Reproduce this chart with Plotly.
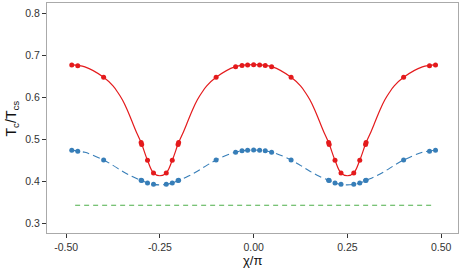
import plotly.graph_objects as go

# measured points
pts_x = [-0.485, -0.469, -0.4, -0.3, -0.2985, -0.283, -0.267, -0.233, -0.217, -0.2015, -0.2,
         -0.1, -0.048, -0.031, -0.016, 0.0, 0.016, 0.031, 0.048, 0.1,
         0.2, 0.2015, 0.217, 0.233, 0.267, 0.283, 0.2985, 0.3, 0.4, 0.469, 0.485]
red_pts = [0.678, 0.6762, 0.6486, 0.4933, 0.4886, 0.451, 0.4207, 0.4207, 0.451, 0.4886, 0.4933,
           0.6486, 0.6735, 0.6765, 0.678, 0.6786, 0.678, 0.6765, 0.6735, 0.6486,
           0.4933, 0.4886, 0.451, 0.4207, 0.4207, 0.451, 0.4886, 0.4933, 0.6486, 0.6762, 0.678]
blue_pts = [0.4748, 0.4724, 0.4517, 0.4035, 0.403, 0.3969, 0.3938, 0.3938, 0.3969, 0.403, 0.4035,
            0.4517, 0.470, 0.4735, 0.4748, 0.4755, 0.4748, 0.4735, 0.470, 0.4517,
            0.4035, 0.403, 0.3969, 0.3938, 0.3938, 0.3969, 0.403, 0.4035, 0.4517, 0.4724, 0.4748]

# fitted curves
red_curve_x = [-0.485, -0.45, -0.4, -0.375, -0.3625, -0.35, -0.3375, -0.325, -0.3125, -0.3,
               -0.283, -0.267, -0.25, -0.233, -0.217,
               -0.2, -0.1875, -0.175, -0.1625, -0.15, -0.1375, -0.125, -0.1, -0.05,
               0.0,
               0.05, 0.1, 0.125, 0.1375, 0.15, 0.1625, 0.175, 0.1875, 0.2,
               0.217, 0.233, 0.25, 0.267, 0.283,
               0.3, 0.3125, 0.325, 0.3375, 0.35, 0.3625, 0.375, 0.4, 0.45, 0.485]
red_curve = [0.678, 0.6733, 0.6486, 0.628, 0.613, 0.595, 0.572, 0.545, 0.518, 0.4933,
             0.451, 0.4207, 0.4143, 0.4207, 0.451,
             0.4933, 0.518, 0.545, 0.572, 0.595, 0.613, 0.628, 0.6486, 0.6733,
             0.6786,
             0.6733, 0.6486, 0.628, 0.613, 0.595, 0.572, 0.545, 0.518, 0.4933,
             0.451, 0.4207, 0.4143, 0.4207, 0.451,
             0.4933, 0.518, 0.545, 0.572, 0.595, 0.613, 0.628, 0.6486, 0.6733, 0.678]

blue_curve_x = [-0.485, -0.45, -0.4, -0.375, -0.35, -0.325, -0.3, -0.283, -0.267, -0.25, -0.233, -0.217,
                -0.2, -0.175, -0.15, -0.125, -0.1, -0.05, 0.0, 0.05, 0.1, 0.125, 0.15, 0.175, 0.2,
                0.217, 0.233, 0.25, 0.267, 0.283, 0.3, 0.325, 0.35, 0.375, 0.4, 0.45, 0.485]
blue_curve = [0.4748, 0.470, 0.4517, 0.439, 0.425, 0.413, 0.4033, 0.3969, 0.3938, 0.3925, 0.3938, 0.3969,
              0.4033, 0.413, 0.425, 0.439, 0.4517, 0.470, 0.4755, 0.470, 0.4517, 0.439, 0.425, 0.413, 0.4033,
              0.3969, 0.3938, 0.3925, 0.3938, 0.3969, 0.4033, 0.413, 0.425, 0.439, 0.4517, 0.470, 0.4748]
green_x = [-0.476, 0.476]
green_y = [0.344, 0.344]

x_ticks = [-0.5, -0.25, 0.0, 0.25, 0.5]
x_ticklabels = ["-0.50", "-0.25", "0.00", "0.25", "0.50"]
y_ticks = [0.3, 0.4, 0.5, 0.6, 0.7, 0.8]
y_ticklabels = ["0.3", "0.4", "0.5", "0.6", "0.7", "0.8"]

RED = "#E41A1C"
BLUE = "#377EB8"
GREEN = "#4DAF4A"
FONT = "Liberation Sans, Arial, sans-serif"

fig = go.Figure()
fig.add_trace(go.Scatter(x=green_x, y=green_y, mode="lines",
                         line=dict(color=GREEN, width=1.1, dash="5px,4px"), showlegend=False))
fig.add_trace(go.Scatter(x=blue_curve_x, y=blue_curve, mode="lines", line_shape="spline",
                         line=dict(color=BLUE, width=1.1, dash="7px,4px"), showlegend=False))
fig.add_trace(go.Scatter(x=red_curve_x, y=red_curve, mode="lines", line_shape="spline",
                         line=dict(color=RED, width=1.2), showlegend=False))
fig.add_trace(go.Scatter(x=pts_x, y=blue_pts, mode="markers",
                         marker=dict(color=BLUE, size=5), showlegend=False))
fig.add_trace(go.Scatter(x=pts_x, y=red_pts, mode="markers",
                         marker=dict(color=RED, size=5), showlegend=False))

axis_common = dict(showgrid=False, zeroline=False, showline=True, mirror=True,
                   linecolor="#aaaaaa", linewidth=1.3, ticks="outside", ticklen=4,
                   tickcolor="#333333", tickwidth=1, automargin=False,
                   tickfont=dict(family=FONT, size=10.5, color="#333333"))

fig.update_layout(
    width=463, height=274,
    margin=dict(l=47, r=5, t=3, b=41, autoexpand=False),
    paper_bgcolor="white", plot_bgcolor="white",
    xaxis=dict(range=[-0.551, 0.545], tickvals=x_ticks, ticktext=x_ticklabels, **axis_common),
    yaxis=dict(range=[0.278, 0.8255], tickvals=y_ticks, ticktext=y_ticklabels, **axis_common),
    annotations=[
        dict(text="χ/π", xref="paper", yref="paper", x=0.5, y=-0.121,
             xanchor="center", yanchor="middle", showarrow=False, borderpad=0,
             font=dict(family=FONT, size=13, color="#111111")),
        dict(text="T<sub>c</sub>/T<sub>cs</sub>", xref="paper", yref="paper", x=-0.084, y=0.5,
             xanchor="center", yanchor="middle", textangle=-90, showarrow=False,
             font=dict(family=FONT, size=14, color="#111111")),
    ],
)

fig.write_html("out.html", config={"displayModeBar": False},
               post_script="document.body.style.margin='0px';document.body.style.padding='0px';")
